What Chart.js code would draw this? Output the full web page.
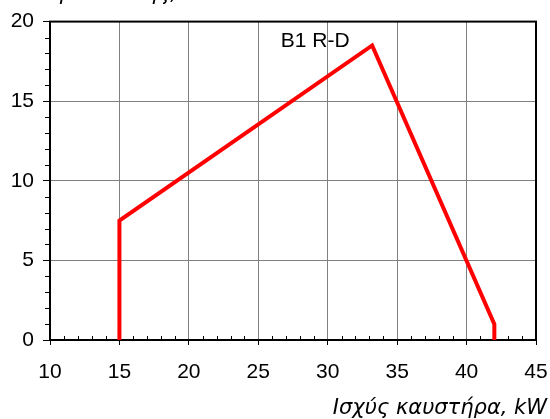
<!DOCTYPE html>
<html>
<head>
<meta charset="utf-8">
<script src="https://cdn.jsdelivr.net/npm/chart.js@4.4.0/dist/chart.umd.min.js"></script>
<style>
  html, body { margin: 0; padding: 0; background: #fff; }
  #wrap { width: 550px; height: 419px; }
</style>
</head>
<body>
<div id="wrap"><canvas id="chart"></canvas></div>
<script>
// burner working field
const powerKW = [15, 15, 33.2, 42, 42];
const pressure = [0, 7.5, 18.5, 1, 0];

const xTicks = [10, 15, 20, 25, 30, 35, 40, 45];
const yTicks = [0, 5, 10, 15, 20];

const curveLabel = "B1 R-D";
const curveLabelAt = [29.1, 18.75];

const xTitle = "Ισχύς καυστήρα, kW";
// only the bottom of this one is inside the picture
const yTitle = "Πίεση στο θάλαμο καύσης, mbar";

const points = powerKW.map((p, i) => ({ x: p, y: pressure[i] }));

// frame, minor ticks and texts
const extras = {
  id: "extras",
  beforeDatasetsDraw(chart) {
    const { ctx, chartArea: a, scales } = chart;
    ctx.save();
    ctx.strokeStyle = "#000";
    ctx.lineWidth = 1;
    // x minor ticks, pointing up into the plot
    for (let v = 11; v < 45; v++) {
      if (v % 5 === 0) continue;
      const px = Math.round(scales.x.getPixelForValue(v)) + 0.5;
      ctx.beginPath();
      ctx.moveTo(px, a.bottom);
      ctx.lineTo(px, a.bottom - 4);
      ctx.stroke();
    }
    // y minor ticks, pointing left
    for (let v = 1; v < 20; v++) {
      if (v % 5 === 0) continue;
      const py = Math.round(scales.y.getPixelForValue(v)) + 0.5;
      ctx.beginPath();
      ctx.moveTo(a.left, py);
      ctx.lineTo(a.left - 5, py);
      ctx.stroke();
    }
    ctx.lineWidth = 2;
    ctx.strokeRect(a.left, a.top, a.right - a.left, a.bottom - a.top);
    ctx.restore();
  },
  afterDraw(chart) {
    const { ctx, scales } = chart;
    ctx.save();
    ctx.fillStyle = "#000";
    ctx.font = "21px 'Liberation Sans', Arial, sans-serif";
    ctx.textAlign = "center";
    ctx.textBaseline = "middle";
    ctx.fillText(curveLabel, scales.x.getPixelForValue(curveLabelAt[0]), scales.y.getPixelForValue(curveLabelAt[1]));

    ctx.font = "oblique 21px 'DejaVu Sans', sans-serif";
    ctx.textAlign = "right";
    ctx.textBaseline = "alphabetic";
    ctx.fillText(xTitle, 547, 414);

    ctx.textAlign = "left";
    const lead = ctx.measureText("Πίεση στο θάλα").width;
    ctx.fillText(yTitle, 60 - lead, 0);
    ctx.restore();
  }
};

new Chart(document.getElementById("chart"), {
  type: "line",
  data: {
    datasets: [{
      data: points,
      borderColor: "#ff0000",
      borderWidth: 4,
      pointRadius: 0,
      tension: 0,
      fill: false
    }]
  },
  options: {
    responsive: true,
    maintainAspectRatio: false,
    animation: false,
    layout: { padding: { top: 20, right: 0, left: 0, bottom: 0 } },
    plugins: {
      legend: { display: false },
      tooltip: { enabled: false }
    },
    scales: {
      x: {
        type: "linear",
        min: 10,
        max: 45,
        afterBuildTicks: s => { s.ticks = xTicks.map(v => ({ value: v })); },
        afterFit: s => { s.height = 79; s.paddingRight = 14; },
        grid: { color: "#808080", lineWidth: 1, tickLength: 5, tickColor: "#000" },
        border: { color: "#000", width: 2 },
        ticks: {
          color: "#000",
          padding: 15,
          maxRotation: 0,
          font: { family: "'Liberation Sans', Arial, sans-serif", size: 21 }
        }
      },
      y: {
        min: 0,
        max: 20,
        afterBuildTicks: s => { s.ticks = yTicks.map(v => ({ value: v })); },
        afterFit: s => { s.width = 50; },
        grid: { color: "#808080", lineWidth: 1, tickLength: 7, tickColor: "#000" },
        border: { color: "#000", width: 2 },
        ticks: {
          color: "#000",
          padding: 9,
          font: { family: "'Liberation Sans', Arial, sans-serif", size: 21 }
        }
      }
    }
  },
  plugins: [extras]
});
</script>
</body>
</html>
